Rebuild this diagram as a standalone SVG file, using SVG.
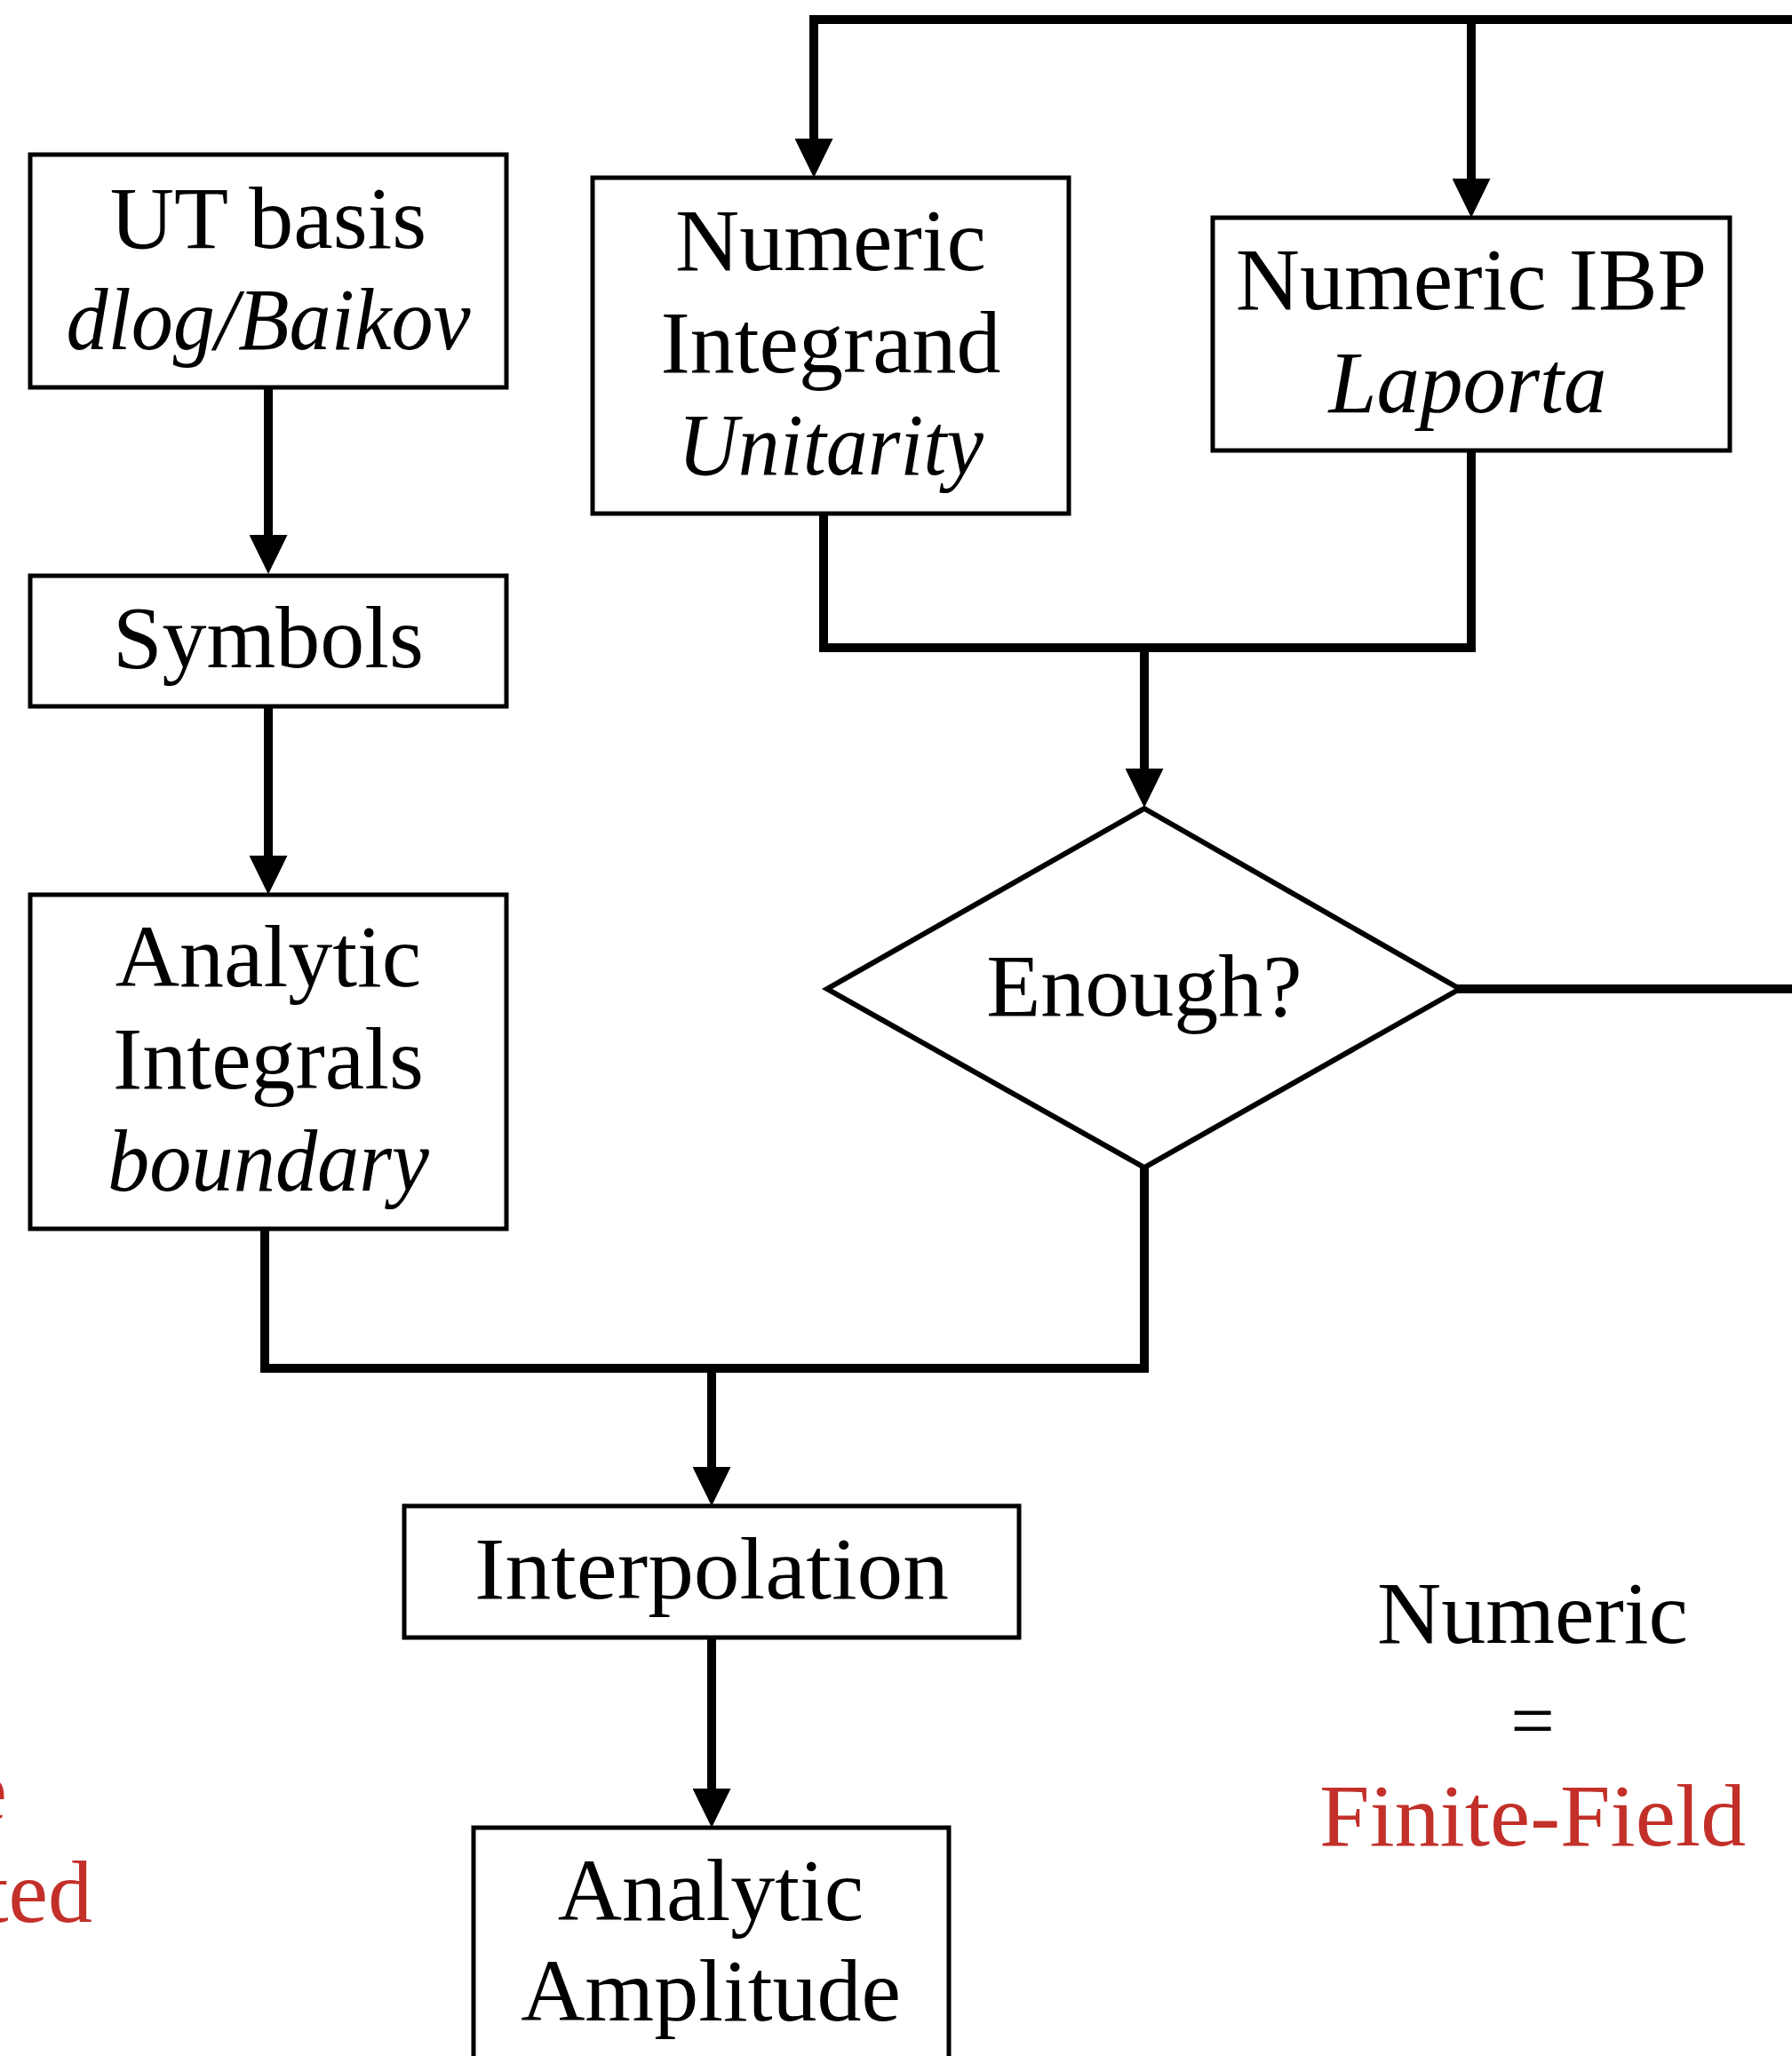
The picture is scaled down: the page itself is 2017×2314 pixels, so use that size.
<svg xmlns="http://www.w3.org/2000/svg" width="2017" height="2314" viewBox="0 0 2017 2314">
<style>
text{font-family:"Liberation Serif","Times New Roman",serif;font-size:100px;fill:#000;text-anchor:middle}
.it{font-style:italic}
.red{fill:#c3302a}
.box{fill:#fff;stroke:#000;stroke-width:5}
.conn{fill:none;stroke:#000;stroke-width:10;stroke-linecap:square;stroke-linejoin:miter}
.arr{stroke-linecap:butt}
</style>
<defs>
<marker id="ah" markerUnits="userSpaceOnUse" markerWidth="44" markerHeight="43" viewBox="0 0 44 43" refX="0" refY="21.5" orient="auto">
<path d="M0,0 L44,21.5 L0,43 z" fill="#000"/>
</marker>
</defs>
<rect width="2017" height="2314" fill="#fff"/>
<g id="connectors">
<path class="conn" d="M916,22 H2030"/>
<path class="conn arr" d="M916,22 V156" marker-end="url(#ah)"/>
<path class="conn arr" d="M1656,22 V201" marker-end="url(#ah)"/>
<path class="conn arr" d="M302,437 V602" marker-end="url(#ah)"/>
<path class="conn arr" d="M302,795 V963" marker-end="url(#ah)"/>
<path class="conn" d="M927,579 V729 H1656 V507"/>
<path class="conn arr" d="M1288,729 V865" marker-end="url(#ah)"/>
<path class="conn" d="M1643,1113 H2030"/>
<path class="conn" d="M298,1383 V1540 H1288 V1314"/>
<path class="conn arr" d="M801,1540 V1651" marker-end="url(#ah)"/>
<path class="conn arr" d="M801,1844 V2013" marker-end="url(#ah)"/>
</g>
<g id="ut-basis">
<rect class="box" x="34" y="174" width="536" height="262"/>
<text x="302" y="279">UT basis</text>
<text class="it" x="302" y="393" textLength="455" lengthAdjust="spacingAndGlyphs">dlog/Baikov</text>
</g>
<g id="numeric-integrand">
<rect class="box" x="667" y="200" width="536" height="378"/>
<text x="935" y="304">Numeric</text>
<text x="935" y="419">Integrand</text>
<text class="it" x="935" y="534" textLength="344" lengthAdjust="spacingAndGlyphs">Unitarity</text>
</g>
<g id="numeric-ibp">
<rect class="box" x="1365" y="245" width="582" height="262"/>
<text x="1656" y="348">Numeric IBP</text>
<text class="it" x="1652" y="464" textLength="313" lengthAdjust="spacingAndGlyphs">Laporta</text>
</g>
<g id="symbols">
<rect class="box" x="34" y="648" width="536" height="147"/>
<text x="302" y="751">Symbols</text>
</g>
<g id="analytic-integrals">
<rect class="box" x="34" y="1007" width="536" height="376"/>
<text x="302" y="1110">Analytic</text>
<text x="302" y="1225">Integrals</text>
<text class="it" x="302" y="1340" textLength="362" lengthAdjust="spacingAndGlyphs">boundary</text>
</g>
<g id="enough">
<polygon points="1288,910 1643,1113 1288,1314 931,1113" fill="#fff" stroke="#000" stroke-width="6"/>
<text x="1288" y="1143">Enough?</text>
</g>
<g id="interpolation">
<rect class="box" x="455" y="1695" width="692" height="148"/>
<text x="801" y="1799" textLength="534" lengthAdjust="spacingAndGlyphs">Interpolation</text>
</g>
<g id="analytic-amplitude">
<rect class="box" x="533" y="2057" width="535" height="320"/>
<text x="800" y="2161">Analytic</text>
<text x="800" y="2274">Amplitude</text>
</g>
<g id="legend-right">
<text x="1725" y="1849">Numeric</text>
<text x="1725" y="1966" style="font-size:88px">=</text>
<text class="red" x="1725" y="2077" textLength="480" lengthAdjust="spacingAndGlyphs">Finite-Field</text>
</g>
<g id="legend-left">
<text class="red" x="8" y="2048" style="text-anchor:end">e</text>
<text class="red" x="104" y="2163" style="text-anchor:end">ted</text>
</g>
</svg>
